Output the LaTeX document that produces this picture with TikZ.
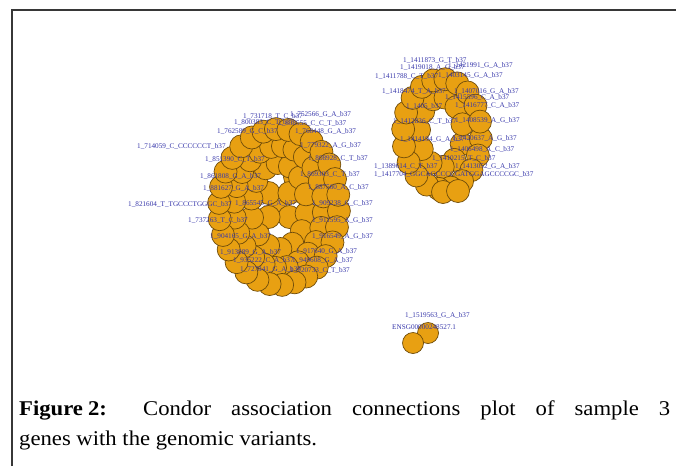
\documentclass[tikz,border=0pt]{standalone}
\usepackage{fontspec}
\setmainfont{Liberation Serif}
\newfontfamily\capfont[FakeStretch=1.08]{Liberation Serif}
\definecolor{vfill}{RGB}{232,160,18}
\definecolor{vline}{RGB}{110,75,10}
\definecolor{lblc}{RGB}{55,55,170}
\definecolor{framec}{RGB}{55,55,55}
\begin{document}
\begin{tikzpicture}[x=1pt,y=-1pt,
  vx/.style={circle,draw=vline,fill=vfill,line width=0.7pt,minimum size=23pt,inner sep=0pt},
  vs/.style={vx,minimum size=21pt},
  lbl/.style={font=\fontsize{7.2}{8}\selectfont,text=lblc,inner sep=0pt,anchor=base west},
  captext/.style={font=\capfont\fontsize{21}{30}\selectfont,inner sep=0pt,anchor=base west,text=black}]
\useasboundingbox (0,0) rectangle (676,466);
\fill[white] (0,0) rectangle (676,466);
\draw[framec,line width=1.4pt] (12,466) -- (12,10) -- (676,10);

% ---------- big cluster ----------
\node[vx] (bc1) at (277,211) {};
\node[vx] (bc2) at (295,177) {};
\foreach \k in {0,2,3,5}
  \node[vx] (bq\k) at ({279+12*cos(\k*60+30)},{205+24*sin(\k*60+30)}) {};
\foreach \k in {0,...,13}
  \node[vx] (bi\k) at ({279+28*cos(\k*360/14+10)},{206+43*sin(\k*360/14+10)}) {};
\foreach \k in {0,...,23}
  \node[vx] (bm\k) at ({279+45*cos(\k*15+5)},{207+61*sin(\k*15+5)}) {};
\foreach \k in {0,...,29}
  \node[vx] (bo\k) at ({279+60*cos(\k*12+3)},{207+78*sin(\k*12+3)}) {};

% ---------- right cluster ----------
\foreach \k in {0,...,10}
  \node[vx] (ri\k) at ({441+22*cos(\k*360/11+20)},{132+35*sin(\k*360/11+20)}) {};
\foreach \k in {0,...,19}
  \node[vx] (ro\k) at ({442+39*cos(\k*18+5)},{134+55*sin(\k*18+5)}) {};
\node[vx] (rb1) at (443,192) {};
\node[vx] (rb2) at (458,191) {};

% ---------- small pair ----------
\node[vs] (s1) at (428,333) {};
\node[vs] (s2) at (413,343) {};

% ---------- labels, big cluster ----------
\node[lbl] (a1) at (243,118) {1\_731718\_T\_C\_b37};
\node[lbl] (a2) at (290,116) {1\_752566\_G\_A\_b37};
\node[lbl] (a3) at (234,124) {1\_800383\_C\_T\_b37};
\node[lbl] (a4) at (278,125) {1\_838555\_C\_C\_T\_b37};
\node[lbl] (a5) at (217,133) {1\_762589\_G\_C\_b37};
\node[lbl] (a6) at (295,133) {1\_768448\_G\_A\_b37};
\node[lbl] (a7) at (137,148) {1\_714059\_C\_CCCCCCT\_b37};
\node[lbl] (a8) at (300,147) {1\_779322\_A\_G\_b37};
\node[lbl] (a9) at (205,161) {1\_851390\_C\_T\_b37};
\node[lbl] (a10) at (308,160) {1\_808928\_C\_T\_b37};
\node[lbl] (a11) at (200,178) {1\_861808\_G\_A\_b37};
\node[lbl] (a12) at (300,176) {1\_869303\_C\_T\_b37};
\node[lbl] (a13) at (203,190) {1\_881627\_G\_A\_b37};
\node[lbl] (a14) at (308,189) {1\_887560\_A\_C\_b37};
\node[lbl] (a15) at (128,206) {1\_821604\_T\_TGCCCTGGGC\_b37};
\node[lbl] (a16) at (235,205) {1\_865545\_G\_A\_b37};
\node[lbl] (a17) at (312,205) {1\_909238\_G\_C\_b37};
\node[lbl] (a18) at (188,222) {1\_737263\_T\_C\_b37};
\node[lbl] (a19) at (312,222) {1\_911595\_A\_G\_b37};
\node[lbl] (a20) at (210,238) {1\_904165\_G\_A\_b37};
\node[lbl] (a21) at (312,238) {1\_916549\_A\_G\_b37};
\node[lbl] (a22) at (220,254) {1\_913889\_G\_A\_b37};
\node[lbl] (a23) at (296,253) {1\_917640\_G\_A\_b37};
\node[lbl] (a24) at (233,262) {1\_935222\_C\_A\_b37};
\node[lbl] (a25) at (292,262) {1\_949608\_G\_A\_b37};
\node[lbl] (a26) at (240,271) {1\_727841\_G\_A\_b37};
\node[lbl] (a27) at (290,272) {1\_920733\_C\_T\_b37};

% ---------- labels, right cluster ----------
\node[lbl] (c1) at (403,62) {1\_1411873\_G\_T\_b37};
\node[lbl] (c2) at (400,69) {1\_1419018\_A\_G\_b37};
\node[lbl] (c3) at (448,67) {1\_1421991\_G\_A\_b37};
\node[lbl] (c4) at (375,78) {1\_1411788\_C\_T\_b37};
\node[lbl] (c5) at (438,77) {1\_1403145\_G\_A\_b37};
\node[lbl] (c6) at (382,93) {1\_1418474\_T\_A\_b37};
\node[lbl] (c7) at (454,93) {1\_1407016\_G\_A\_b37};
\node[lbl] (c8) at (445,99) {1\_1415596\_C\_A\_b37};
\node[lbl] (c9) at (406,108) {1\_1405\_b37};
\node[lbl] (c10) at (455,107) {1\_1416777\_C\_A\_b37};
\node[lbl] (c11) at (393,123) {1\_1412836\_C\_T\_b37};
\node[lbl] (c12) at (455,122) {1\_1408539\_A\_G\_b37};
\node[lbl] (c13) at (400,141) {1\_1414194\_G\_A\_b37};
\node[lbl] (c14) at (452,140) {1\_1420637\_A\_G\_b37};
\node[lbl] (c15) at (450,151) {1\_1406498\_A\_C\_b37};
\node[lbl] (c16) at (432,160) {1\_1410215\_T\_C\_b37};
\node[lbl] (c17) at (374,168) {1\_1389614\_C\_T\_b37};
\node[lbl] (c18) at (455,168) {1\_1413052\_G\_A\_b37};
\node[lbl] (c19) at (374,176) {1\_1417704\_GGCAGCCCCGATGGAGCCCCGC\_b37};

% ---------- labels, small pair ----------
\node[lbl] (d1) at (405,317) {1\_1519563\_G\_A\_b37};
\node[lbl] (d2) at (392,329) {ENSG00000248527.1};

% ---------- caption ----------
\node[captext] (cap1) at (19,415.5) {\makebox[651pt][s]{\textbf{Figure\hspace{5pt}2:} Condor association connections plot of sample 3}};
\node[captext] (cap2) at (19,445) {genes with the genomic variants.};
\end{tikzpicture}
\end{document}
